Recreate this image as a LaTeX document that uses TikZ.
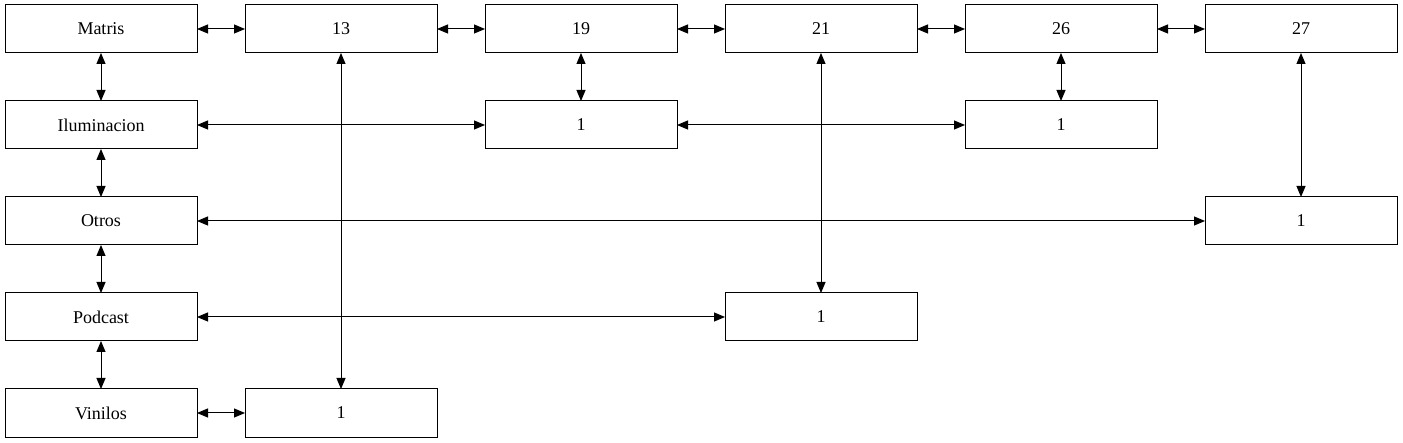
\documentclass[tikz,border=0pt]{standalone}
\usepackage{fontspec}
\setmainfont{Liberation Serif}
\usetikzlibrary{positioning,arrows.meta}

\begin{document}
\begin{tikzpicture}[
    x=1pt, y=1pt,
    every node/.style={draw, line width=1pt, minimum width=192pt, minimum height=48pt,
        inner sep=0pt, outer sep=0pt, font=\fontsize{18}{20}\selectfont},
    link/.style={line width=1pt, {Triangle[length=11pt,width=9pt]}-{Triangle[length=11pt,width=9pt]}},
    node distance=48pt and 48pt,
]
\useasboundingbox (0,0) rectangle (1403,-443);
% first row
\node (matris) at (101,-29) {Matris};
\node[right=of matris] (n13) {13};
\node[right=of n13] (n19) {19};
\node[right=of n19] (n21) {21};
\node[right=of n21] (n26) {26};
\node[right=of n26] (n27) {27};
% first column
\node[below=of matris] (ilum) {Iluminacion};
\node[below=of ilum] (otros) {Otros};
\node[below=of otros] (podcast) {Podcast};
\node[below=of podcast] (vinilos) {Vinilos};
% counts
\node[below=of n19] (ilum19) {1};
\node[below=of n26] (ilum26) {1};
\node[below=of n27, yshift=-96pt] (otros27) {1};
\node[right=of podcast, xshift=480pt] (pod21) {1};
\node[right=of vinilos] (vin13) {1};

\draw[link] (matris) -- (n13);
\draw[link] (n13) -- (n19);
\draw[link] (n19) -- (n21);
\draw[link] (n21) -- (n26);
\draw[link] (n26) -- (n27);
\draw[link] (matris) -- (ilum);
\draw[link] (ilum) -- (otros);
\draw[link] (otros) -- (podcast);
\draw[link] (podcast) -- (vinilos);
\draw[link] (n13) -- (vin13);
\draw[link] (n19) -- (ilum19);
\draw[link] (ilum) -- (ilum19);
\draw[link] (ilum19) -- (ilum26);
\draw[link] (n26) -- (ilum26);
\draw[link] (n21) -- (pod21);
\draw[link] (podcast) -- (pod21);
\draw[link] (n27) -- (otros27);
\draw[link] (otros) -- (otros27);
\draw[link] (vinilos) -- (vin13);
\end{tikzpicture}
\end{document}
